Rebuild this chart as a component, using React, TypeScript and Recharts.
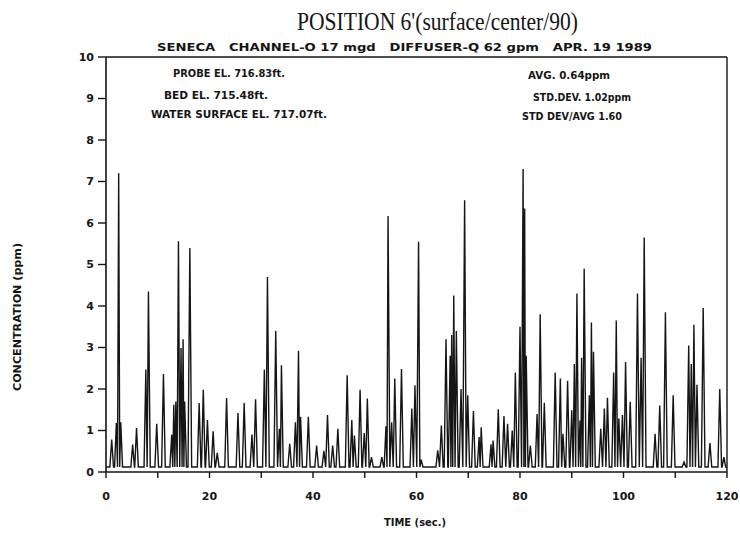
import { LineChart, Line, XAxis, YAxis, ReferenceLine } from 'recharts'

// peak times (sec) and peak concentrations (ppm)
const peakTimes = [
  1.1, 2.0, 2.45, 2.85, 5.15, 5.9, 7.7, 8.2, 9.8, 11.1, 12.7, 13.1, 13.5, 14.0, 14.5, 14.9, 15.2, 16.2,
  18.0, 18.8, 19.6, 20.7, 21.5, 23.3, 25.5, 26.7, 28.2, 28.9, 30.6, 31.2, 32.8, 33.5, 33.9, 35.5, 36.6,
  37.2, 37.6, 39.1, 40.7, 42.1, 42.8, 43.8, 44.8, 46.6, 47.5, 48.0, 49.1, 49.9, 50.5, 51.3, 53.3, 54.1,
  54.5, 55.2, 55.8, 57.1, 59.1, 59.7, 60.4, 60.9, 64.1, 64.8, 65.7, 66.5, 66.8, 67.2, 67.7, 68.6, 69.3,
  69.9, 71.0, 72.1, 72.5, 74.4, 74.8, 75.8, 76.9, 77.6, 78.5, 79.1, 80.0, 80.6, 80.9, 81.2, 82.0, 83.3,
  83.9, 84.7, 86.8, 87.8, 88.3, 89.2, 90.0, 90.5, 91.0, 91.6, 91.9, 92.4, 93.4, 93.8, 94.2, 95.6, 96.3,
  96.9, 98.1, 98.6, 99.1, 99.8, 100.4, 101.3, 102.7, 103.4, 104.0, 106.1, 107.0, 108.1, 109.6, 111.7,
  112.6, 113.1, 113.6, 114.2, 115.4, 116.7, 118.6, 119.4,
]
const peakValues = [
  0.78, 1.18, 7.2, 1.2, 0.66, 1.06, 2.47, 4.35, 1.16, 2.36, 0.9, 1.62, 1.7, 5.56, 2.99, 3.2, 1.7, 5.4,
  1.66, 1.98, 1.25, 0.98, 0.46, 1.78, 1.42, 1.66, 0.9, 1.75, 2.47, 4.7, 3.4, 1.04, 2.57, 0.68, 1.2,
  2.92, 1.33, 1.33, 0.64, 0.51, 1.37, 0.64, 1.04, 2.33, 1.25, 0.88, 1.98, 0.94, 1.77, 0.36, 0.36, 1.1,
  6.17, 1.2, 2.25, 2.48, 1.53, 2.09, 5.55, 0.3, 0.52, 1.12, 3.2, 2.8, 3.3, 4.25, 3.4, 2.0, 6.55,
  1.85, 1.47, 0.84, 1.08, 0.67, 0.76, 1.51, 1.35, 1.16, 1.0, 2.4, 3.5, 7.3, 6.35, 2.8, 0.64, 1.4,
  3.8, 1.67, 2.4, 2.25, 0.92, 2.2, 1.49, 2.6, 4.3, 1.24, 2.75, 4.9, 1.85, 3.6, 2.9, 1.04, 1.53,
  1.79, 2.4, 3.65, 1.29, 1.37, 2.65, 1.69, 4.3, 2.75, 5.65, 0.92, 1.6, 3.85, 1.85, 0.24,
  3.05, 2.6, 3.55, 2.1, 3.95, 0.7, 2.0, 0.36,
]
const BASELINE = 0.12
const HALF_WIDTH = 0.35

const xTicks = [0, 10, 20, 30, 40, 50, 60, 70, 80, 90, 100, 110, 120]
const xTickLabels = ['0', '', '20', '', '40', '', '60', '', '80', '', '100', '', '120']
const yTicks = [0, 1, 2, 3, 4, 5, 6, 7, 8, 9, 10]

const title = "POSITION 6'(surface/center/90)"
const subtitle = 'SENECA   CHANNEL-O 17 mgd   DIFFUSER-Q 62 gpm   APR. 19 1989'
const leftNotes = ['PROBE EL. 716.83ft.', 'BED EL. 715.48ft.', 'WATER SURFACE EL. 717.07ft.']
const rightNotes = ['AVG. 0.64ppm', 'STD.DEV. 1.02ppm', 'STD DEV/AVG 1.60']

// turn peaks into a trace: baseline foot, peak, baseline foot
const trace: { t: number; v: number }[] = [{ t: 0, v: BASELINE }]
peakTimes.forEach((t, i) => {
  const prev = peakTimes[i - 1]
  const next = peakTimes[i + 1]
  const left = prev === undefined ? t - HALF_WIDTH : Math.max(t - HALF_WIDTH, (prev + t) / 2)
  const right = next === undefined ? t + HALF_WIDTH : Math.min(t + HALF_WIDTH, (t + next) / 2)
  if (trace[trace.length - 1].t < left) trace.push({ t: left, v: BASELINE })
  trace.push({ t, v: peakValues[i] })
  trace.push({ t: right, v: BASELINE })
})
trace.push({ t: 120, v: BASELINE })

const ink = '#151515'
const plotFont = '"DejaVu Sans", sans-serif'

export default function App() {
  return (
    <div style={{ position: 'absolute', left: 0, top: 0, width: 740, height: 538, background: '#fff' }}>
      <LineChart width={740} height={538} data={trace} margin={{ top: 57, right: 13, left: 76, bottom: 36 }}>
        <XAxis
          dataKey="t"
          type="number"
          domain={[0, 120]}
          ticks={xTicks}
          tickFormatter={(v) => xTickLabels[xTicks.indexOf(v)] ?? ''}
          height={30}
          tickSize={6}
          tickMargin={14}
          axisLine={{ stroke: ink, strokeWidth: 1.6 }}
          tickLine={{ stroke: ink, strokeWidth: 1.4 }}
          tick={{ fill: ink, fontSize: 11, fontWeight: 'bold', fontFamily: plotFont }}
        />
        <YAxis
          type="number"
          domain={[0, 10]}
          ticks={yTicks}
          width={30}
          tickSize={8}
          tickMargin={4}
          axisLine={{ stroke: ink, strokeWidth: 1.6 }}
          tickLine={{ stroke: ink, strokeWidth: 1.4 }}
          tick={{ fill: ink, fontSize: 11, fontWeight: 'bold', fontFamily: plotFont }}
        />
        <ReferenceLine y={10} stroke={ink} strokeWidth={1.4} />
        <ReferenceLine x={120} stroke={ink} strokeWidth={1.4} />
        <Line
          dataKey="v"
          type="linear"
          stroke={ink}
          strokeWidth={1.4}
          dot={false}
          isAnimationActive={false}
        />
      </LineChart>
      <svg width={740} height={538} style={{ position: 'absolute', left: 0, top: 0, pointerEvents: 'none' }}>
        <text x={297} y={30} fontSize={26} fontFamily='"Liberation Serif", serif' fill={ink} textLength={281} lengthAdjust="spacingAndGlyphs">
          {title}
        </text>
        <text x={157} y={51} fontSize={11} fontWeight="bold" fontFamily={plotFont} fill={ink} textLength={495} lengthAdjust="spacingAndGlyphs" style={{ whiteSpace: 'pre' }}>
          {subtitle}
        </text>
        <text x={173} y={77} fontSize={11} fontWeight="bold" fontFamily={plotFont} fill={ink} textLength={112} lengthAdjust="spacingAndGlyphs">{leftNotes[0]}</text>
        <text x={164} y={99} fontSize={11} fontWeight="bold" fontFamily={plotFont} fill={ink} textLength={104} lengthAdjust="spacingAndGlyphs">{leftNotes[1]}</text>
        <text x={151} y={118} fontSize={11} fontWeight="bold" fontFamily={plotFont} fill={ink} textLength={176} lengthAdjust="spacingAndGlyphs">{leftNotes[2]}</text>
        <text x={528} y={79} fontSize={11} fontWeight="bold" fontFamily={plotFont} fill={ink} textLength={82} lengthAdjust="spacingAndGlyphs">{rightNotes[0]}</text>
        <text x={533} y={101} fontSize={11} fontWeight="bold" fontFamily={plotFont} fill={ink} textLength={98} lengthAdjust="spacingAndGlyphs">{rightNotes[1]}</text>
        <text x={522} y={120} fontSize={11} fontWeight="bold" fontFamily={plotFont} fill={ink} textLength={100} lengthAdjust="spacingAndGlyphs">{rightNotes[2]}</text>
        <text x={21} y={317} fontSize={10} fontWeight="bold" fontFamily={plotFont} fill={ink} textAnchor="middle" transform="rotate(-90 21 317)" textLength={148} lengthAdjust="spacingAndGlyphs">
          CONCENTRATION (ppm)
        </text>
        <text x={415} y={526} fontSize={10} fontWeight="bold" fontFamily={plotFont} fill={ink} textAnchor="middle" textLength={62} lengthAdjust="spacingAndGlyphs">
          TIME (sec.)
        </text>
      </svg>
    </div>
  )
}
